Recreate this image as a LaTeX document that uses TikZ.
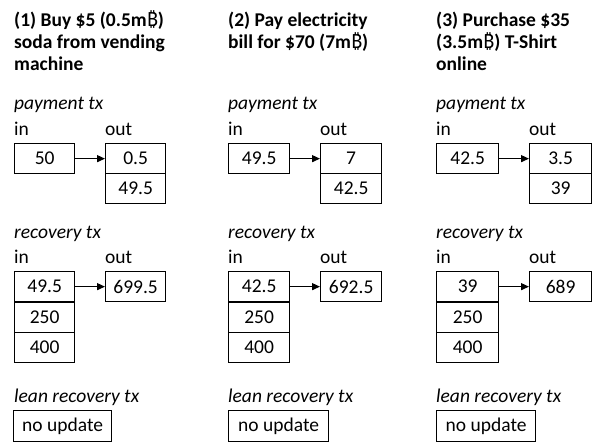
\documentclass[tikz,border=0pt]{standalone}
\usepackage{fontspec}
\setmainfont{Carlito}
\newfontfamily\btcfont{Noto Sans}
\usetikzlibrary{arrows.meta}
\newcommand\btc{{\btcfont ₿}}
\tikzset{
  title/.style={anchor=base west, inner sep=0pt, font=\bfseries\fontsize{19.5}{22}\selectfont},
  label/.style={anchor=base west, inner sep=0pt, font=\fontsize{19.5}{22}\selectfont},
  txname/.style={label, font=\itshape\fontsize{19.5}{22}\selectfont},
  cell/.style={draw, line width=1.3pt, anchor=north west, inner sep=0pt, minimum height=30pt,
    minimum width=#1, font=\fontsize{19.5}{22}\selectfont},
  cell/.default=61pt,
  flow/.style={line width=1.3pt, -{Triangle[length=8pt,width=7pt]}}
}
\begin{document}
\begin{tikzpicture}[x=1pt,y=-1pt]
\useasboundingbox (0,0) rectangle (596,441);
% ---------- column 1 ----------
\node[title] (t1a) at (14,27) {(1) Buy \$5 (0.5m\btc)};
\node[title] (t1b) at (14,49) {soda from vending};
\node[title] (t1c) at (14,71) {machine};
% payment tx
\node[txname] (p1) at (14,110) {payment tx};
\node[label] (p1in) at (14,135) {in};
\node[label] (p1out) at (105,135) {out};
\node[cell=60pt] (p1i) at (14,143) {50};
\node[cell=60pt] (p1o1) at (105,143) {0.5};
\node[cell=60pt] (p1o2) at (105,173) {49.5};
\draw[flow] (p1i) -- (p1o1);
% recovery tx
\node[txname] (r1) at (14,238) {recovery tx};
\node[label] (r1in) at (14,263) {in};
\node[label] (r1out) at (105,263) {out};
\node[cell=60pt] (r1i1) at (14,271) {49.5};
\node[cell=60pt] (r1i2) at (14,301.5) {250};
\node[cell=60pt] (r1i3) at (14,332) {400};
\node[cell=60pt] (r1o) at (105,271) {699.5};
\draw[flow] (r1i1) -- (r1o);
% lean recovery tx
\node[txname] (l1) at (14,402) {lean recovery tx};
\node[cell=98pt, minimum height=31pt] (l1b) at (13,410) {no update};
% ---------- column 2 ----------
\node[title] (t2a) at (228,27) {(2) Pay electricity};
\node[title] (t2b) at (228,49) {bill for \$70 (7m\btc)};
% payment tx
\node[txname] (p2) at (228,110) {payment tx};
\node[label] (p2in) at (228,135) {in};
\node[label] (p2out) at (320,135) {out};
\node[cell] (p2i) at (228,143) {49.5};
\node[cell] (p2o1) at (320,143) {7};
\node[cell] (p2o2) at (320,173) {42.5};
\draw[flow] (p2i) -- (p2o1);
% recovery tx
\node[txname] (r2) at (228,238) {recovery tx};
\node[label] (r2in) at (228,263) {in};
\node[label] (r2out) at (320,263) {out};
\node[cell] (r2i1) at (228,271) {42.5};
\node[cell] (r2i2) at (228,301.5) {250};
\node[cell] (r2i3) at (228,332) {400};
\node[cell] (r2o) at (320,271) {692.5};
\draw[flow] (r2i1) -- (r2o);
% lean recovery tx
\node[txname] (l2) at (228,402) {lean recovery tx};
\node[cell=100pt, minimum height=31pt] (l2b) at (228,410) {no update};
% ---------- column 3 ----------
\node[title] (t3a) at (436,27) {(3) Purchase \$35};
\node[title] (t3b) at (436,49) {(3.5m\btc) T-Shirt};
\node[title] (t3c) at (436,71) {online};
% payment tx
\node[txname] (p3) at (436,110) {payment tx};
\node[label] (p3in) at (436,135) {in};
\node[label] (p3out) at (529,135) {out};
\node[cell=62pt] (p3i) at (436,143) {42.5};
\node[cell=62pt] (p3o1) at (529,143) {3.5};
\node[cell=62pt] (p3o2) at (529,173) {39};
\draw[flow] (p3i) -- (p3o1);
% recovery tx
\node[txname] (r3) at (436,238) {recovery tx};
\node[label] (r3in) at (436,263) {in};
\node[label] (r3out) at (529,263) {out};
\node[cell=62pt] (r3i1) at (436,271) {39};
\node[cell=62pt] (r3i2) at (436,301.5) {250};
\node[cell=62pt] (r3i3) at (436,332) {400};
\node[cell=62pt] (r3o) at (529,271) {689};
\draw[flow] (r3i1) -- (r3o);
% lean recovery tx
\node[txname] (l3) at (436,402) {lean recovery tx};
\node[cell=99pt, minimum height=31pt] (l3b) at (436,410) {no update};
\end{tikzpicture}
\end{document}
